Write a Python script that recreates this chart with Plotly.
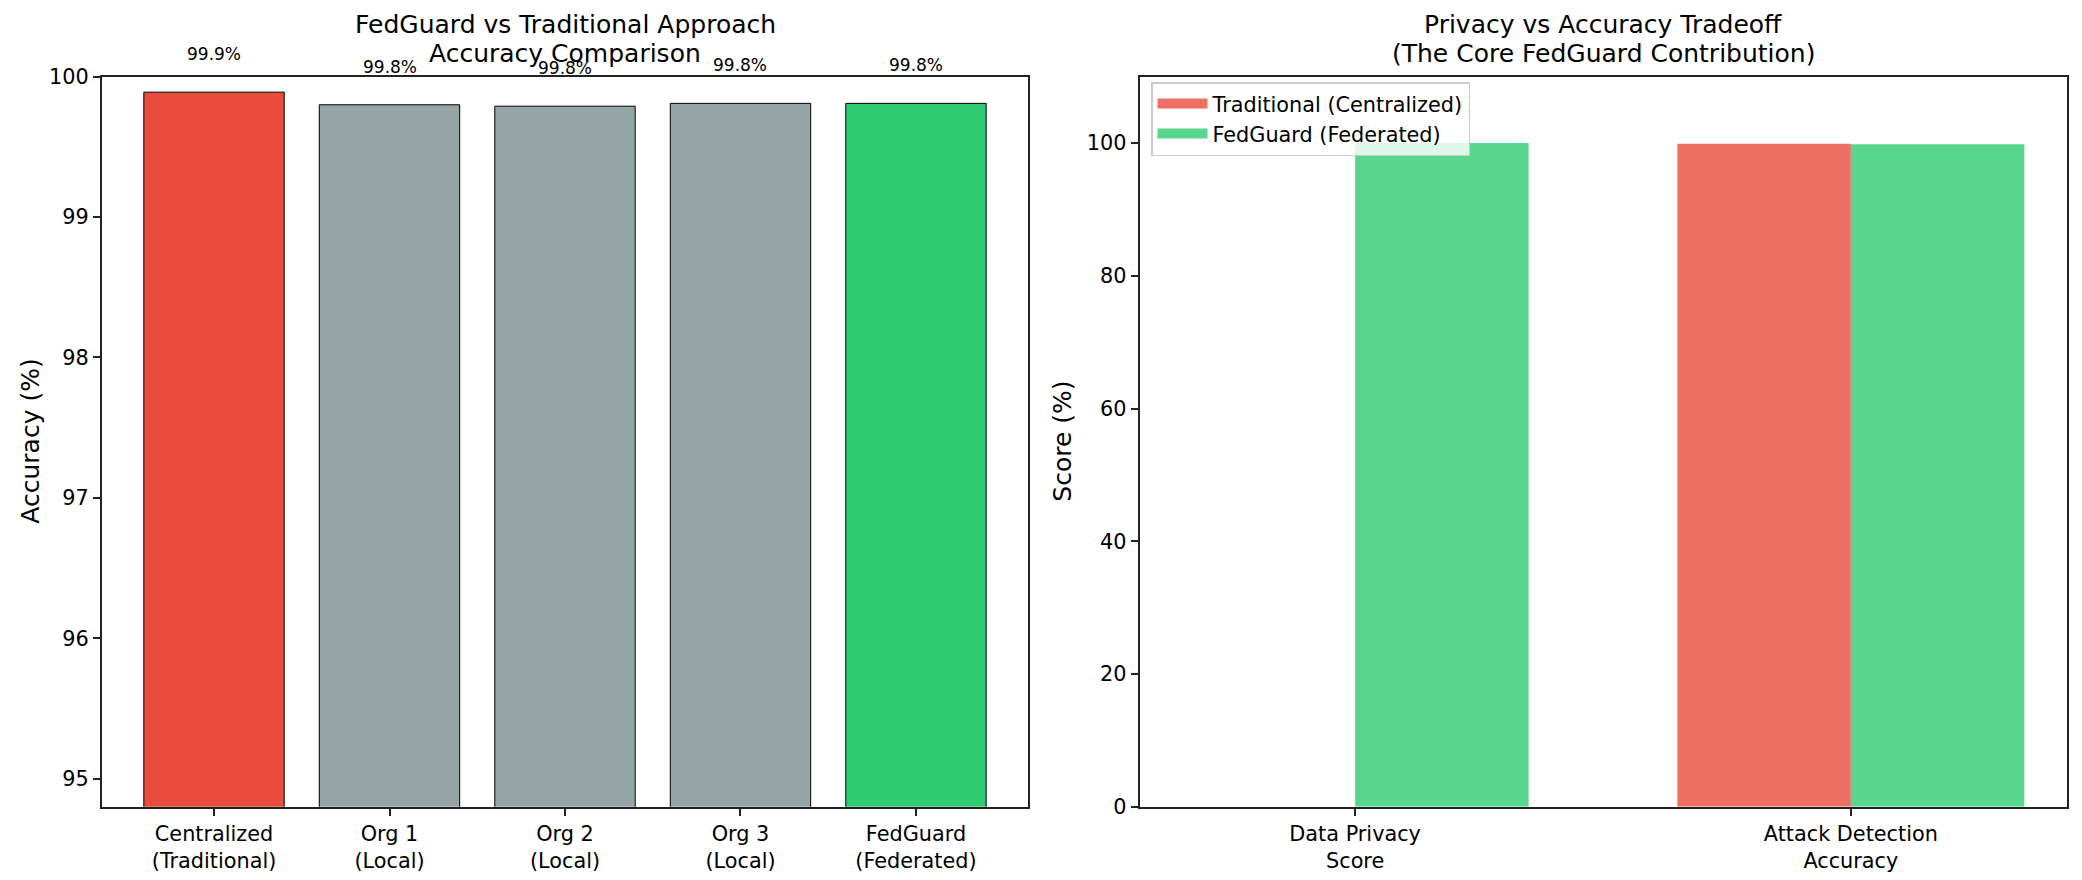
import numpy as np
import plotly.graph_objects as go

# ---- data ----
approaches = ["Centralized<br>(Traditional)", "Org 1<br>(Local)", "Org 2<br>(Local)",
              "Org 3<br>(Local)", "FedGuard<br>(Federated)"]
accuracy = [99.89, 99.80, 99.79, 99.81, 99.81]
accuracy_labels = ["99.9%", "99.8%", "99.8%", "99.8%", "99.8%"]
bar_colors = ["#e74c3c", "#95a5a6", "#95a5a6", "#95a5a6", "#2ecc71"]

metrics = ["Data Privacy<br>Score", "Attack Detection<br>Accuracy"]
traditional_scores = [0.0, 99.89]
fedguard_scores = [100.0, 99.81]
series_names = ["Traditional (Centralized)", "FedGuard (Federated)"]
series_colors = ["rgba(231,76,60,0.8)", "rgba(46,204,113,0.8)"]

W, H = 2082, 880
FONT = "DejaVu Sans"

# axes boxes in pixels
L1, R1 = 101.7, 1028.3
L2, R2 = 1139.5, 2066.5
TOP, BOT = 76.7, 806.7

def px(x):
    return x / W

def py(y):
    return 1 - y / H

fig = go.Figure()

x1 = np.arange(len(approaches))
fig.add_trace(go.Bar(
    x=x1, y=accuracy, width=0.8, marker=dict(color=bar_colors, line=dict(color="black", width=1)),
    xaxis="x", yaxis="y", showlegend=False, hoverinfo="skip"))

x2 = np.arange(len(metrics))
bw = 0.35
for offs, vals, name, col in [(-bw / 2, traditional_scores, series_names[0], series_colors[0]),
                              (bw / 2, fedguard_scores, series_names[1], series_colors[1])]:
    fig.add_trace(go.Bar(
        x=x2 + offs, y=vals, width=bw, name=name, showlegend=False,
        marker=dict(color=col, line=dict(width=0)), xaxis="x2", yaxis="y2"))
# legend entries (matplotlib-like wide patches)
for name, col in zip(series_names, series_colors):
    fig.add_trace(go.Scatter(
        x=[None], y=[None], mode="lines", name=name,
        line=dict(color=col, width=14.6), xaxis="x2", yaxis="y2"))

axis_common = dict(showline=True, linecolor="#222222", linewidth=1.7, mirror=True,
                   ticks="outside", ticklen=7, tickwidth=1.7, tickcolor="#222222",
                   showgrid=False, zeroline=False, automargin=False,
                   tickfont=dict(family=FONT, size=20.8, color="black"))

annotations = []
for xi, v, lab in zip(x1, accuracy, accuracy_labels):
    annotations.append(dict(x=xi, y=v, xref="x", yref="y", text=lab, showarrow=False,
                            xanchor="center", yanchor="middle", yshift=38,
                            font=dict(family=FONT, size=17, color="black")))

def title_lines(cx, lines):
    out = []
    baselines = [34.3, 63.3]
    for b, t in zip(baselines, lines):
        out.append(dict(x=px(cx), y=py(b), xref="paper", yref="paper", text=t, showarrow=False,
                        xanchor="center", yanchor="bottom", yshift=-7,
                        font=dict(family=FONT, size=25, color="black")))
    return out

annotations += title_lines((L1 + R1) / 2, ["FedGuard vs Traditional Approach", "Accuracy Comparison"])
annotations += title_lines((L2 + R2) / 2, ["Privacy vs Accuracy Tradeoff", "(The Core FedGuard Contribution)"])

annotations.append(dict(x=px(31), y=py((TOP + BOT) / 2), xref="paper", yref="paper",
                        text="Accuracy (%)", textangle=-90, showarrow=False,
                        xanchor="center", yanchor="middle",
                        font=dict(family=FONT, size=25, color="black")))
annotations.append(dict(x=px(1063), y=py((TOP + BOT) / 2), xref="paper", yref="paper",
                        text="Score (%)", textangle=-90, showarrow=False,
                        xanchor="center", yanchor="middle",
                        font=dict(family=FONT, size=25, color="black")))

fig.update_layout(
    width=W, height=H, margin=dict(l=0, r=0, t=0, b=0, autoexpand=False),
    paper_bgcolor="white", plot_bgcolor="white",
    barmode="overlay",
    font=dict(family=FONT, color="black"),
    xaxis=dict(domain=[px(L1), px(R1)], range=[-0.64, 4.64], tickvals=list(x1), ticktext=approaches,
               anchor="y", **axis_common),
    yaxis=dict(domain=[py(BOT), py(TOP)], range=[94.8, 100], tickvals=[95, 96, 97, 98, 99, 100],
               anchor="x", **axis_common),
    xaxis2=dict(domain=[px(L2), px(R2)], range=[-0.435, 1.435], tickvals=list(x2), ticktext=metrics,
                anchor="y2", **axis_common),
    yaxis2=dict(domain=[py(BOT), py(TOP)], range=[0, 110], tickvals=[0, 20, 40, 60, 80, 100],
                anchor="x2", **axis_common),
    legend=dict(x=px(1151), y=py(82), xanchor="left", yanchor="top",
                bgcolor="rgba(255,255,255,0.8)", bordercolor="#cccccc", borderwidth=1.5,
                font=dict(family=FONT, size=20.8, color="black"), tracegroupgap=0,
                itemwidth=50),
    annotations=annotations,
)

fig.write_html("out.html")
